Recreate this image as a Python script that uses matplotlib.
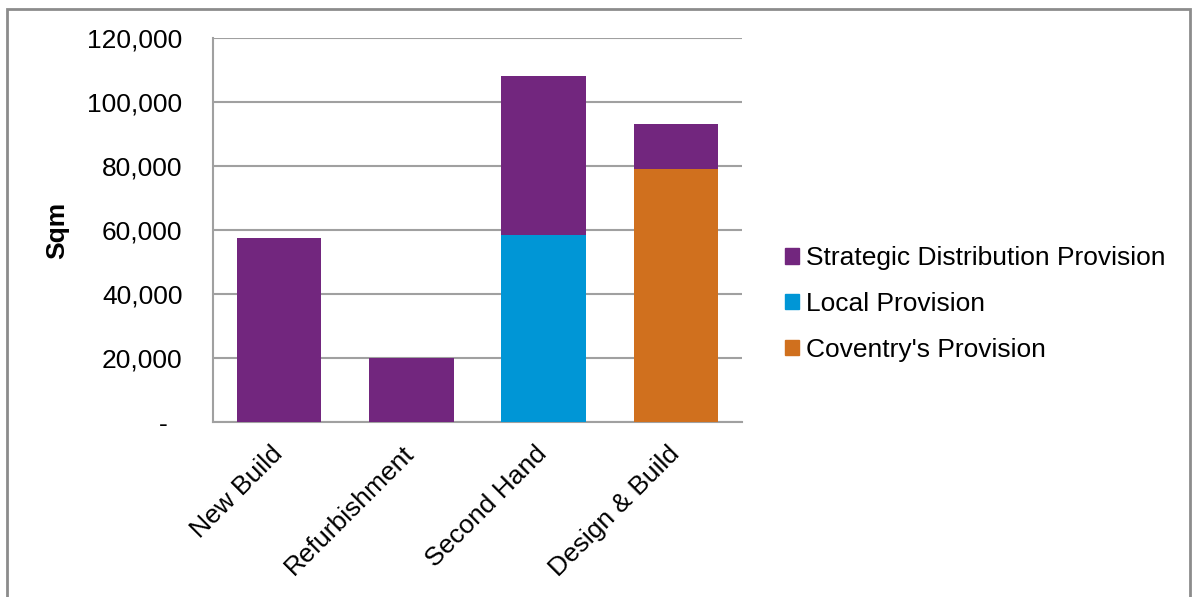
import matplotlib
matplotlib.use("Agg")
import matplotlib.pyplot as plt
from matplotlib.patches import Rectangle, Patch
from matplotlib.transforms import ScaledTranslation
import numpy as np

plt.rcParams['font.family'] = ['Liberation Sans', 'DejaVu Sans']

categories = ["New Build", "Refurbishment", "Second Hand", "Design & Build"]
local_provision = [0, 0, 58500, 0]
coventry_provision = [0, 0, 0, 79000]
strategic_provision = [57500, 20000, 49500, 14000]
y_ticks = [0, 20000, 40000, 60000, 80000, 100000, 120000]
y_tick_labels = ["-  ", "20,000", "40,000", "60,000", "80,000", "100,000", "120,000"]

c_strat = "#72267E"
c_local = "#0096D6"
c_cov = "#D0701E"
FS = 19

W, H = 1196, 597
fig = plt.figure(figsize=(W / 100, H / 100), dpi=100)
fig.patches.append(Rectangle((6.5 / W, -0.05), (1190 - 6.5) / W, 1 - 8.5 / H + 0.05,
                             transform=fig.transFigure, fill=False,
                             edgecolor="#8C8C8C", linewidth=2))

ax = fig.add_axes([213 / W, 1 - 422 / H, (742 - 213) / W, (422 - 38) / H])
x = np.arange(len(categories))
bw = 0.64
base = np.zeros(len(categories))
ax.bar(x, local_provision, bw, bottom=base, color=c_local, zorder=3)
base = base + np.array(local_provision)
ax.bar(x, coventry_provision, bw, bottom=base, color=c_cov, zorder=3)
base = base + np.array(coventry_provision)
ax.bar(x, strategic_provision, bw, bottom=base, color=c_strat, zorder=3)

ax.set_xlim(-0.5, len(categories) - 0.5)
ax.set_ylim(0, 120000)
ax.set_yticks(y_ticks)
ax.set_yticklabels(y_tick_labels, fontsize=FS)
ax.yaxis.grid(True, color="#A0A0A0", linewidth=1.5, zorder=0)
ax.tick_params(axis='y', length=0, pad=22)
ax.tick_params(axis='x', length=0, pad=14)
ax.set_xticks(x)
ax.set_xticklabels(categories, fontsize=FS, rotation=45, ha='right',
                   rotation_mode='anchor')
off = ScaledTranslation(-9 / 100, 0, fig.dpi_scale_trans)
for lbl in ax.get_xticklabels():
    lbl.set_transform(lbl.get_transform() + off)
for s in ["top", "right"]:
    ax.spines[s].set_visible(False)
for s in ["left", "bottom"]:
    ax.spines[s].set_color("#A0A0A0")
    ax.spines[s].set_linewidth(1.5)
ax.set_axisbelow(True)

fig.text(57 / W, 1 - 230 / H, "Sqm", rotation=90, fontsize=FS, fontweight='bold',
         ha='center', va='center')

handles = [Patch(color=c_strat, label="Strategic Distribution Provision"),
           Patch(color=c_local, label="Local Provision"),
           Patch(color=c_cov, label="Coventry's Provision")]
fig.legend(handles=handles, loc='center left', bbox_to_anchor=(785 / W, 1 - 304 / H),
           frameon=False, fontsize=FS, handlelength=0.53, handleheight=0.53,
           handletextpad=0.27, labelspacing=0.82, borderaxespad=0, borderpad=0)

fig.savefig("out.png", dpi=100)
